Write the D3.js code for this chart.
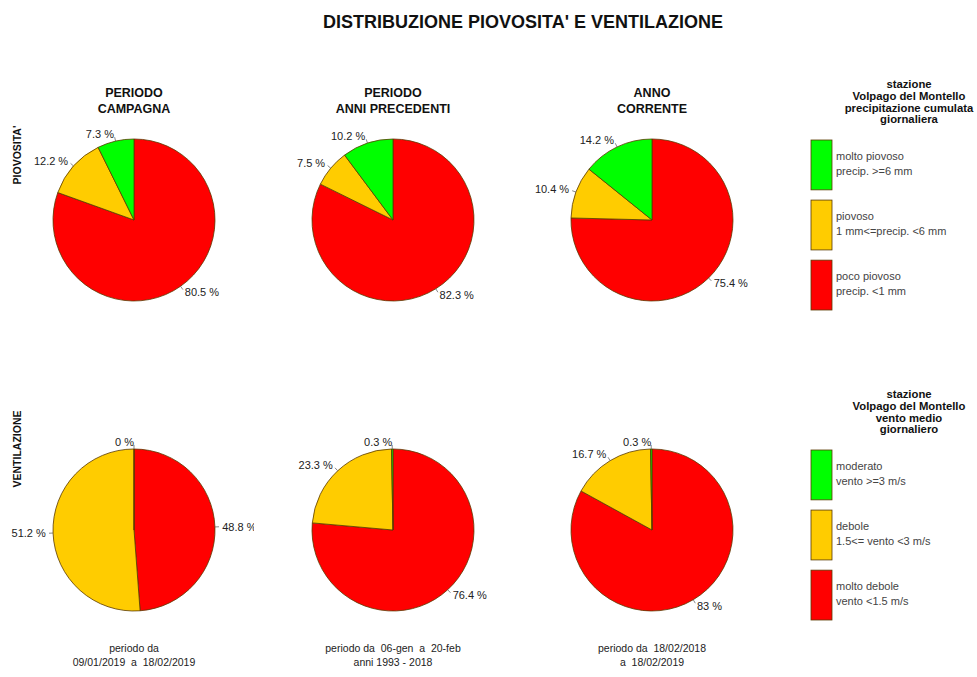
<!DOCTYPE html>
<html>
<head>
    <meta charset="utf-8">
    <title>Distribuzione piovosita' e ventilazione</title>
    <script src="https://d3js.org/d3.v7.min.js"></script>
    <style>
        html, body {
            margin: 0;
            background: #fff;
            overflow: hidden;
        }
        text {
            font-family: "Liberation Sans", Arial, sans-serif;
            white-space: pre;
        }
    </style>
</head>
<body>
    <svg id="svg"></svg>
    <script>
        // column headers (two lines each)
        const columnTitles = [
            ["PERIODO", "CAMPAGNA"],
            ["PERIODO", "ANNI PRECEDENTI"],
            ["ANNO", "CORRENTE"]
        ];
        const columnFooters = [
            ["periodo da", "09/01/2019  a  18/02/2019"],
            ["periodo da  06-gen  a  20-feb", "anni 1993 - 2018"],
            ["periodo da  18/02/2018", "a  18/02/2019"]
        ];
        const rowNames = ["PIOVOSITA'", "VENTILAZIONE"];

        // legend categories, order: green, yellow, red
        const colors = ["#00ff00", "#ffcc00", "#ff0000"];
        const rainCategories = [
            ["molto piovoso", "precip. >=6 mm"],
            ["piovoso", "1 mm<=precip. <6 mm"],
            ["poco piovoso", "precip. <1 mm"]
        ];
        const windCategories = [
            ["moderato", "vento >=3 m/s"],
            ["debole", "1.5<= vento <3 m/s"],
            ["molto debole", "vento <1.5 m/s"]
        ];
        const rainLegendTitle = ["stazione", "Volpago del Montello", "precipitazione cumulata", "giornaliera"];
        const windLegendTitle = ["stazione", "Volpago del Montello", "vento medio", "giornaliero"];

        // percentages per column, order: green, yellow, red
        const rainValues = [
            [7.3, 12.2, 80.5],
            [10.2, 7.5, 82.3],
            [14.2, 10.4, 75.4]
        ];
        const windValues = [
            [0, 51.2, 48.8],
            [0.3, 23.3, 76.4],
            [0.3, 16.7, 83]
        ];

        const width = 977, height = 677;
        const svg = d3.select("#svg")
        .attr("width", width)
        .attr("height", height);

        svg.append("text")
        .attr("x", 523)
        .attr("y", 28)
        .attr("text-anchor", "middle")
        .attr("font-size", 18)
        .attr("font-weight", "bold")
        .attr("fill", "#111")
        .text("DISTRIBUZIONE PIOVOSITA' E VENTILAZIONE");

        const colX = d3.scalePoint().domain([0, 1, 2]).range([134, 652]);
        const rowY = [220, 530];
        const radius = 81;

        const pie = d3.pie().sort(null).value(d => d.value);
        const arc = d3.arc().innerRadius(0).outerRadius(radius);
        const labelArc = d3.arc().innerRadius(radius * 1.09).outerRadius(radius * 1.09);
        const tickIn = d3.arc().innerRadius(radius).outerRadius(radius);
        const tickOut = d3.arc().innerRadius(radius * 1.05).outerRadius(radius * 1.05);

        // column titles
        columnTitles.forEach((lines, i) => {
            svg.append("text")
            .attr("x", colX(i))
            .attr("y", 97)
            .attr("text-anchor", "middle")
            .attr("font-size", 12.5)
            .attr("font-weight", "bold")
            .attr("fill", "#111")
            .selectAll("tspan")
            .data(lines)
            .enter()
            .append("tspan")
            .attr("x", colX(i))
            .attr("dy", (d, j) => j === 0 ? 0 : 16)
            .text(d => d);
        });

        // footers
        columnFooters.forEach((lines, i) => {
            svg.append("text")
            .attr("x", colX(i))
            .attr("y", 652)
            .attr("text-anchor", "middle")
            .attr("font-size", 10.5)
            .attr("fill", "#222")
            .selectAll("tspan")
            .data(lines)
            .enter()
            .append("tspan")
            .attr("x", colX(i))
            .attr("dy", (d, j) => j === 0 ? 0 : 14)
            .text(d => d);
        });

        // row names
        const rowLabelY = [155, 449];
        rowNames.forEach((name, i) => {
            svg.append("text")
            .attr("transform", `translate(21, ${rowLabelY[i]}) rotate(-90)`)
            .attr("text-anchor", "middle")
            .attr("font-size", 10.5)
            .attr("font-weight", "bold")
            .attr("fill", "#111")
            .text(name);
        });

        const defs = svg.append("defs");

        function drawPie(values, cx, cy, id) {
            // clockwise from 12 o'clock: red, yellow, green
            const data = values.map((v, k) => ({ value: v, color: colors[k] })).reverse();
            const arcs = pie(data);

            defs.append("clipPath")
            .attr("id", id)
            .append("rect")
            .attr("x", -cx)
            .attr("y", -130)
            .attr("width", cx + 120)
            .attr("height", 260);

            const g = svg.append("g")
            .attr("transform", `translate(${cx}, ${cy})`)
            .attr("clip-path", `url(#${id})`);

            g.selectAll("path")
            .data(arcs)
            .enter()
            .append("path")
            .attr("d", arc)
            .attr("fill", d => d.data.color)
            .attr("stroke", "#5a3a00")
            .attr("stroke-width", 0.8);

            g.selectAll("line")
            .data(arcs)
            .enter()
            .append("line")
            .attr("x1", d => tickIn.centroid(d)[0])
            .attr("y1", d => tickIn.centroid(d)[1])
            .attr("x2", d => tickOut.centroid(d)[0])
            .attr("y2", d => tickOut.centroid(d)[1])
            .attr("stroke", "#555")
            .attr("stroke-width", 0.7);

            g.selectAll("text")
            .data(arcs)
            .enter()
            .append("text")
            .attr("x", d => labelArc.centroid(d)[0])
            .attr("y", d => labelArc.centroid(d)[1])
            .attr("dy", "0.35em")
            .attr("text-anchor", d => {
                const mid = (d.startAngle + d.endAngle) / 2;
                return mid < Math.PI - 1e-6 && mid > 1e-6 ? "start" : "end";
            })
            .attr("font-size", 11)
            .attr("fill", "#222")
            .text(d => d.data.value + " %");
        }

        rainValues.forEach((v, i) => drawPie(v, colX(i), rowY[0], "clipR" + i));
        windValues.forEach((v, i) => drawPie(v, colX(i), rowY[1], "clipW" + i));

        function drawLegend(titleLines, categories, top) {
            svg.append("text")
            .attr("x", 909)
            .attr("y", top)
            .attr("text-anchor", "middle")
            .attr("font-size", 11.3)
            .attr("font-weight", "bold")
            .attr("fill", "#111")
            .selectAll("tspan")
            .data(titleLines)
            .enter()
            .append("tspan")
            .attr("x", 909)
            .attr("dy", (d, j) => j === 0 ? 0 : 11.8)
            .text(d => d);

            const boxY = d3.scaleBand()
            .domain(d3.range(categories.length))
            .range([top + 52, top + 52 + 170])
            .paddingInner(0.17);

            const items = svg.append("g")
            .selectAll("g")
            .data(categories)
            .enter()
            .append("g");

            items.append("rect")
            .attr("x", 811)
            .attr("y", (d, k) => boxY(k))
            .attr("width", 21)
            .attr("height", boxY.bandwidth())
            .attr("fill", (d, k) => colors[k])
            .attr("stroke", "#5a3a00")
            .attr("stroke-width", 0.8);

            items.append("text")
            .attr("x", 836)
            .attr("y", (d, k) => boxY(k) + 20)
            .attr("font-size", 11)
            .attr("fill", "#444")
            .selectAll("tspan")
            .data(d => d)
            .enter()
            .append("tspan")
            .attr("x", 836)
            .attr("dy", (d, j) => j === 0 ? 0 : 14.5)
            .text(d => d);
        }

        drawLegend(rainLegendTitle, rainCategories, 88);
        drawLegend(windLegendTitle, windCategories, 398);
    </script>
</body>
</html>
